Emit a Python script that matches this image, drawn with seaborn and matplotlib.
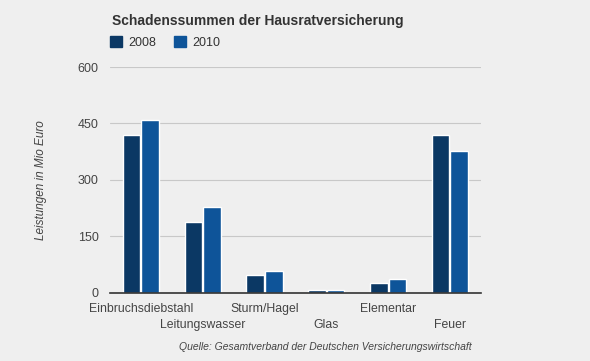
import pandas as pd
import seaborn as sns
import matplotlib.pyplot as plt
from matplotlib.patches import Patch
from matplotlib.transforms import ScaledTranslation

# Daten
kategorien = ['Einbruchsdiebstahl', 'Leitungswasser', 'Sturm/Hagel', 'Glas', 'Elementar', 'Feuer']
werte_2008 = [420, 188, 48, 8, 27, 420]
werte_2010 = [460, 228, 58, 8, 37, 377]
jahre = ['2008', '2010']
farben = ['#0b3864', '#0e5499']

df = pd.DataFrame({
    'Kategorie': kategorien * 2,
    'Jahr': ['2008'] * len(kategorien) + ['2010'] * len(kategorien),
    'Wert': werte_2008 + werte_2010,
})

sns.set_style('white')
plt.rcParams['font.family'] = ['Liberation Sans', 'DejaVu Sans']

bg = '#efefef'
fig = plt.figure(figsize=(5.9, 3.61), dpi=100, facecolor=bg)
ax = fig.add_axes([0.1864, 0.1884, 0.6286, 0.626], facecolor=bg)

sns.barplot(data=df, x='Kategorie', y='Wert', hue='Jahr', hue_order=jahre,
            palette=farben, width=0.6, gap=0.05, saturation=1, ax=ax, legend=False)

ax.set_ylim(0, 600)
ax.set_xlim(-0.5, 5.5)
ax.set_yticks([0, 150, 300, 450, 600])
ax.yaxis.grid(True, color='#c8c8c8', linewidth=0.8)
ax.set_axisbelow(True)
for s in ['top', 'right', 'left']:
    ax.spines[s].set_visible(False)
ax.spines['bottom'].set_color('#333333')
ax.spines['bottom'].set_linewidth(1.2)
ax.tick_params(axis='both', length=0, labelsize=9, colors='#444444')
ax.tick_params(axis='y', pad=8)

# Kategorien abwechselnd auf zwei Zeilen
ax.set_xticks(range(len(kategorien)))
ax.set_xticklabels(kategorien, fontsize=8.8, color='#444444')
ax.tick_params(axis='x', pad=7)
versatz = ScaledTranslation(0, -0.16, fig.dpi_scale_trans)
for i, lbl in enumerate(ax.get_xticklabels()):
    if i % 2 == 1:
        lbl.set_transform(lbl.get_transform() + versatz)

ax.set_xlabel('')
ax.set_ylabel('Leistungen in Mio Euro', fontsize=8.5, style='italic', color='#444444', labelpad=22)

fig.text(0.19, 0.942, 'Schadenssummen der Hausratversicherung', fontsize=10,
         fontweight='bold', color='#333333', va='center')

# Legende
handles = [Patch(color=f, label=j) for f, j in zip(farben, jahre)]
fig.legend(handles=handles, loc='center left', bbox_to_anchor=(0.168, 0.882), ncol=2,
           frameon=False, fontsize=9, handlelength=0.9, handleheight=0.9,
           handletextpad=0.5, columnspacing=1.5, labelcolor='#333333')

fig.text(0.552, 0.038, 'Quelle: Gesamtverband der Deutschen Versicherungswirtschaft',
         fontsize=7.5, style='italic', color='#444444', ha='center', va='center')

fig.savefig('out.png', dpi=100, facecolor=bg)
